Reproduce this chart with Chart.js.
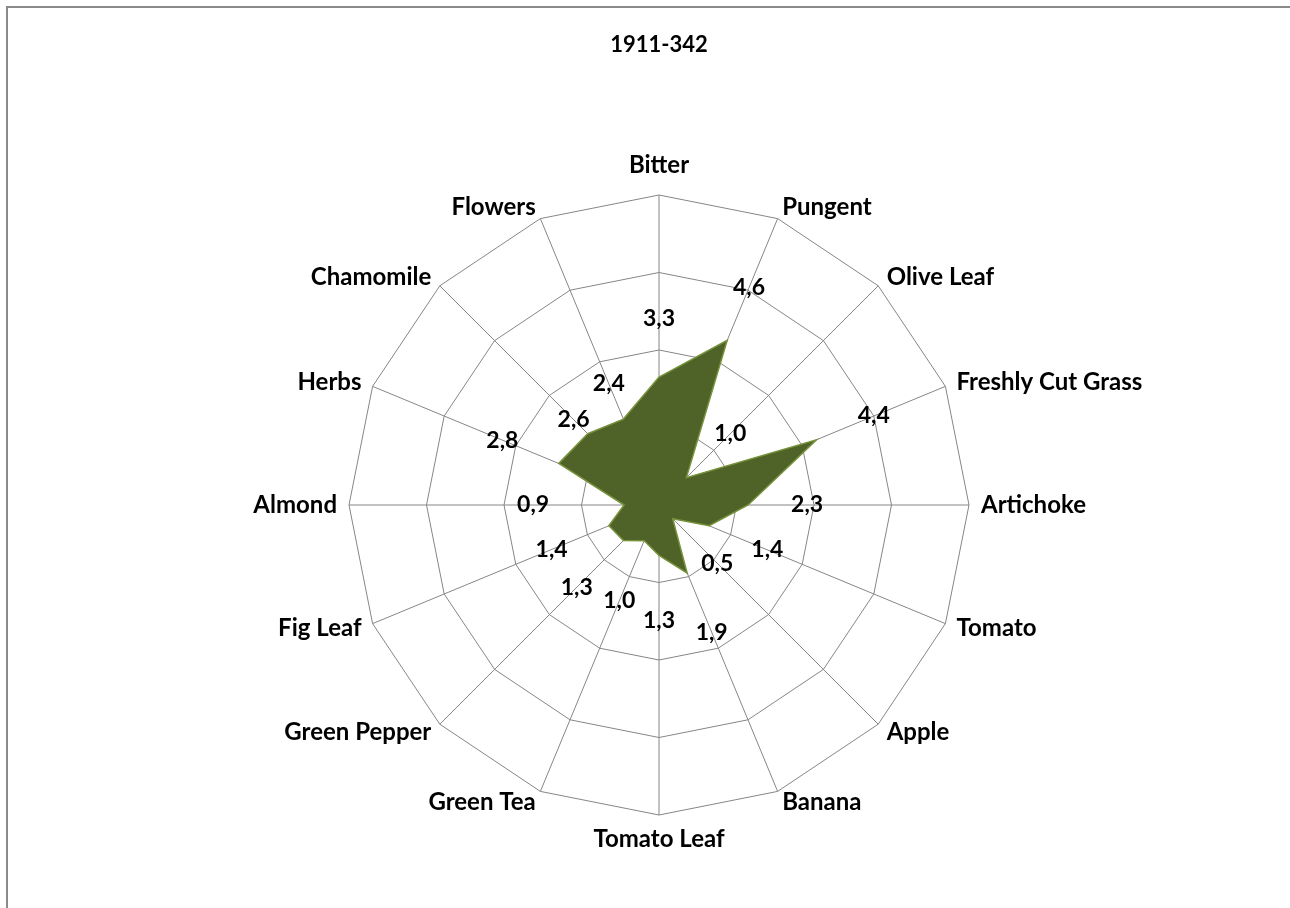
<!DOCTYPE html>
<html>
<head>
<meta charset="utf-8">
<title>1911-342</title>
<script src="https://cdn.jsdelivr.net/npm/chart.js@4/dist/chart.umd.min.js"></script>
<style>
  html, body { margin: 0; padding: 0; background: #fff; overflow: hidden; }
  #wrap { position: absolute; left: 0; top: 0; width: 1290px; height: 908px; }
  #frame { position: absolute; left: 6px; top: 6px; width: 1300px; height: 920px;
           border-left: 2px solid #8a8a8a; border-top: 2px solid #8a8a8a; }
</style>
</head>
<body>
<div id="frame"></div>
<div id="wrap"><canvas id="radar" width="1290" height="908"></canvas></div>
<script>
// categories, clockwise from the top
const categorias = ['Bitter', 'Pungent', 'Olive Leaf', 'Freshly Cut Grass', 'Artichoke', 'Tomato',
  'Apple', 'Banana', 'Tomato Leaf', 'Green Tea', 'Green Pepper', 'Fig Leaf', 'Almond',
  'Herbs', 'Chamomile', 'Flowers'];
const valores = [3.3, 4.6, 1.0, 4.4, 2.3, 1.4, 0.5, 1.9, 1.3, 1.0, 1.3, 1.4, 0.9, 2.8, 2.6, 2.4];
const titulo = '1911-342';
const escalaMax = 8;
const escalaPasso = 2;

// distancia (px) do rotulo de valor ate o ponto, como o Excel colocou
const distRotulo = [59, 57, 62, 62, 59, 63, 63, 64, 65, 65, 66, 62, 91, 61, 20, 38];

const fonteTitulo = { family: 'Lato', weight: 'bold', size: 22 };

// rotulos das categorias: centrados na vertical, como no Excel
const rotulosEixo = {
  id: 'rotulosEixo',
  afterDraw(chart) {
    const ctx = chart.ctx;
    const r = chart.scales.r;
    ctx.save();
    ctx.font = 'bold 24px Lato';
    ctx.fillStyle = '#000';
    categorias.forEach((nome, i) => {
      const p = r.getPointPosition(i, r.drawingArea + 12);
      const graus = Math.round(i * 360 / categorias.length);
      let y = p.y;
      if (graus === 0) {
        ctx.textAlign = 'center';
        ctx.textBaseline = 'alphabetic';
        y = p.y - 10;
      } else if (graus === 180) {
        ctx.textAlign = 'center';
        ctx.textBaseline = 'top';
      } else {
        ctx.textAlign = graus < 180 ? 'left' : 'right';
        ctx.textBaseline = 'middle';
      }
      ctx.fillText(nome, p.x, y);
    });
    ctx.restore();
  }
};

// rotulos de valor (estilo Excel, virgula decimal)
const rotulosValor = {
  id: 'rotulosValor',
  afterDatasetsDraw(chart) {
    const ctx = chart.ctx;
    const r = chart.scales.r;
    const meta = chart.getDatasetMeta(0);
    ctx.save();
    ctx.font = 'bold 23px Lato';
    ctx.fillStyle = '#000';
    ctx.textAlign = 'center';
    ctx.textBaseline = 'middle';
    meta.data.forEach((pt, i) => {
      const ang = r.getIndexAngle(i) - Math.PI / 2;
      const dist = distRotulo[i];
      const x = pt.x + Math.cos(ang) * dist;
      const y = pt.y + Math.sin(ang) * dist;
      ctx.fillText(valores[i].toFixed(1).replace('.', ','), x, y);
    });
    ctx.restore();
  }
};

new Chart(document.getElementById('radar'), {
  type: 'radar',
  data: {
    labels: categorias,
    datasets: [{
      data: valores,
      backgroundColor: '#4f6228',
      borderColor: '#77933c',
      borderWidth: 1.5,
      pointRadius: 0,
      pointHoverRadius: 0,
      fill: true
    }]
  },
  options: {
    responsive: false,
    animation: false,
    layout: { padding: { left: 28, right: 0, top: 0, bottom: 93 } },
    plugins: {
      legend: { display: false },
      tooltip: { enabled: false },
      title: {
        display: true,
        text: titulo,
        color: '#000',
        font: fonteTitulo,
        padding: { top: 32, bottom: 136.6 }
      }
    },
    scales: {
      r: {
        min: 0,
        max: escalaMax,
        ticks: { display: false, stepSize: escalaPasso },
        grid: { color: '#868686', lineWidth: 1 },
        angleLines: { color: '#868686', lineWidth: 1 },
        pointLabels: { display: false }
      }
    }
  },
  plugins: [rotulosEixo, rotulosValor]
});
</script>
</body>
</html>
